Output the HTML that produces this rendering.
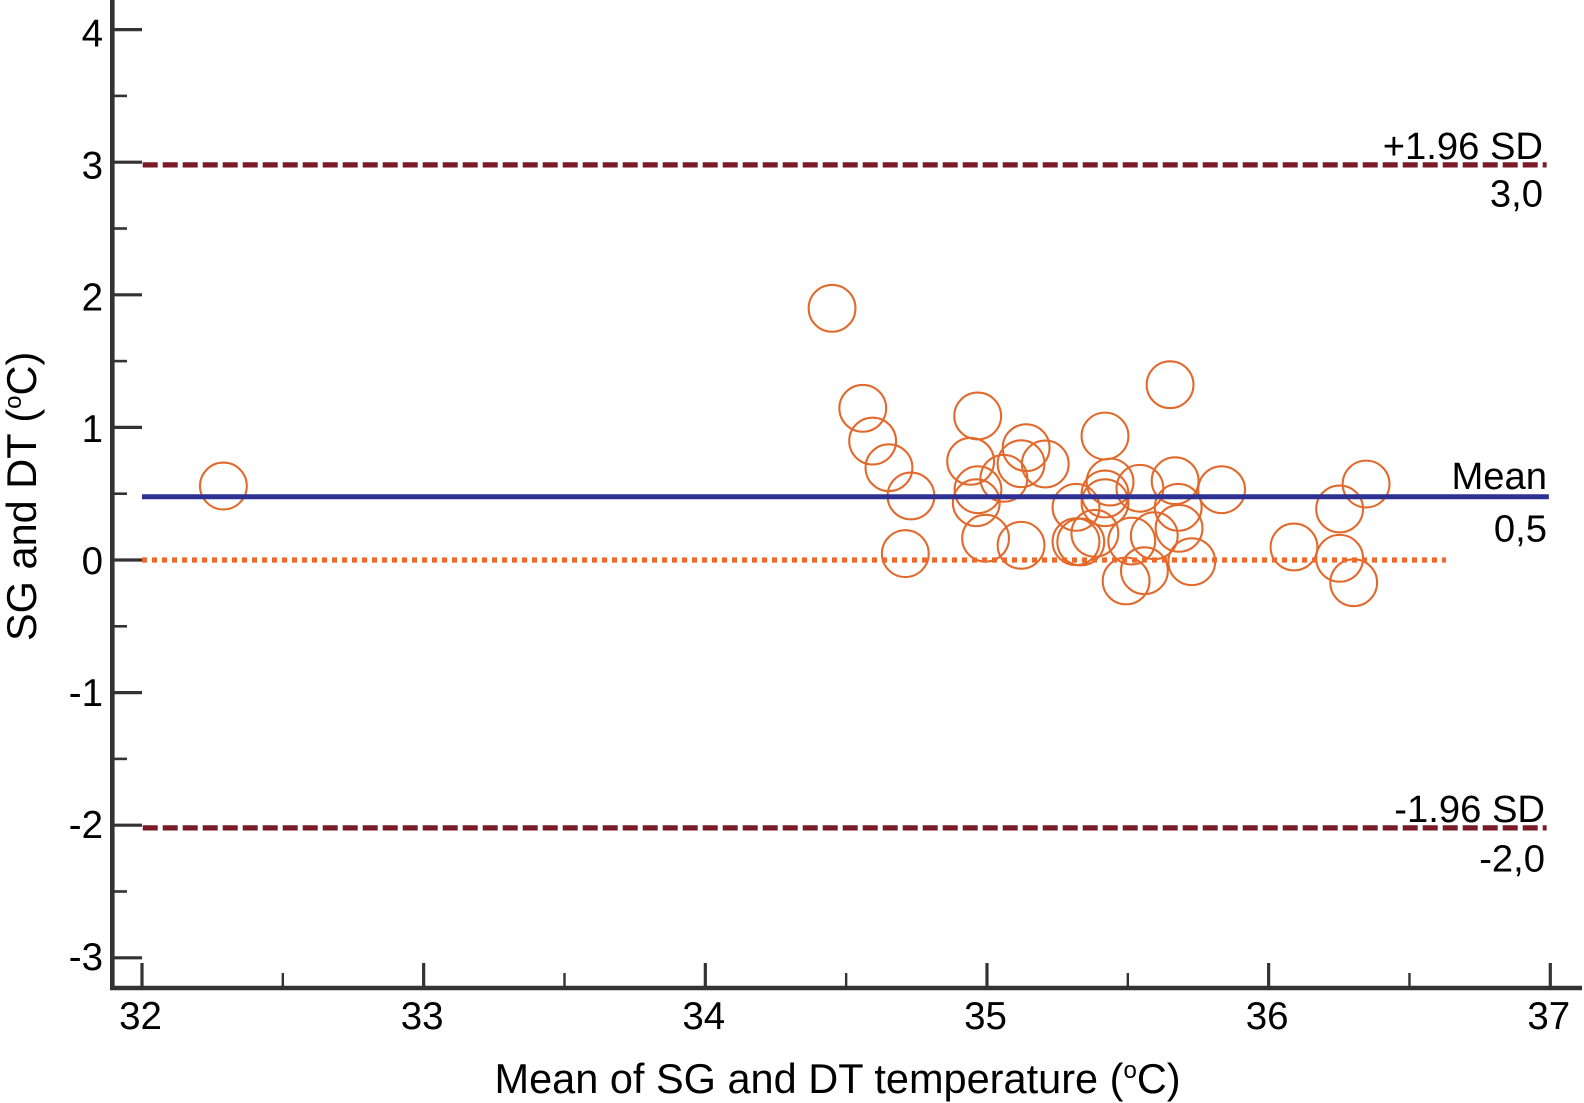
<!DOCTYPE html>
<html>
<head>
<meta charset="utf-8">
<title>Bland-Altman plot</title>
<style>
  html, body { margin: 0; padding: 0; background: #fff; }
  svg { display: block; }
  text { font-family: "Liberation Sans", sans-serif; fill: #000; }
</style>
</head>
<body>
<svg id="chart" xmlns="http://www.w3.org/2000/svg" width="1584" height="1103" viewBox="0 0 1584 1103">
  <rect x="0" y="0" width="1584" height="1103" fill="#ffffff"></rect>
  <text x="494.5" y="1093" font-size="41.5">Mean of SG and DT temperature (<tspan font-size="24" dy="-15">o</tspan><tspan dy="15">C)</tspan></text>
  <text transform="translate(36,641) rotate(-90)" x="0" y="0" font-size="41.5">SG and DT (<tspan font-size="24" dy="-15">o</tspan><tspan dy="15">C)</tspan></text>
</svg>
<script>
const meanTemps = [32.289,34.450,34.559,34.594,34.652,34.730,34.710,34.967,34.942,34.968,34.962,34.995,35.060,35.139,35.121,35.207,35.121,35.316,35.316,35.333,35.383,35.419,35.437,35.419,35.419,35.543,35.668,35.679,35.682,35.594,35.514,35.727,35.559,35.494,35.650,35.833,36.090,36.252,36.346,36.252,36.302];
const tempDiffs = [0.558,1.898,1.144,0.897,0.696,0.483,0.048,1.086,0.744,0.530,0.432,0.164,0.616,0.847,0.726,0.724,0.111,0.397,0.138,0.136,0.201,0.935,0.588,0.498,0.432,0.541,0.598,0.397,0.239,0.183,0.143,-0.013,-0.081,-0.158,1.322,0.530,0.098,0.385,0.573,0.013,-0.171];
const xMajorTicks = [32,33,34,35,36,37];
const xMinorTicks = [32.5,33.5,34.5,35.5,36.5];
const yMajorTicks = [4,3,2,1,0,-1,-2,-3];
const yMinorTicks = [3.5,2.5,1.5,0.5,-0.5,-1.5,-2.5];
const upperLimit = [2.98];
const meanDifference = [0.477];
const lowerLimit = [-2.02];
const zeroLine = [0];
const limitLineEnd = [36.987];
const meanLineEnd = [36.995];
const zeroLineEnd = [36.63];

const svg = document.getElementById('chart');
const NS = 'http://www.w3.org/2000/svg';
const AXIS = '#333333';

function xScale(v) { return 142 + (v - 32) * 281.66; }
function yScale(v) { return 560 - v * 132.6; }
function yLabelPos(v) { return 46.5 + (4 - v) * 131.9; }

function make(tag, attrs) {
  const el = document.createElementNS(NS, tag);
  for (const k in attrs) el.setAttribute(k, attrs[k]);
  svg.appendChild(el);
  return el;
}

let node;

tempDiffs.forEach(function (d, i) {
  node = make('circle', { cx: xScale(meanTemps[i]), cy: yScale(d), r: 23.4, fill: 'none', stroke: '#e2692c', 'stroke-width': 2.1 });
  
  
});

node = make('line', { x1: xScale(32), x2: xScale(zeroLineEnd[0]), y1: yScale(zeroLine[0]), y2: yScale(zeroLine[0]), stroke: '#ee6a2b', 'stroke-width': 5.2, 'stroke-dasharray': '5 5' });



node = make('line', { x1: xScale(32), x2: xScale(meanLineEnd[0]), y1: yScale(meanDifference[0]), y2: yScale(meanDifference[0]), stroke: '#2e3192', 'stroke-width': 5 });



node = make('line', { x1: xScale(32) + 0.7, x2: xScale(limitLineEnd[0]), y1: yScale(upperLimit[0]), y2: yScale(upperLimit[0]), stroke: '#7a1a24', 'stroke-width': 5.2, 'stroke-dasharray': '15 5' });



node = make('line', { x1: xScale(32) + 0.7, x2: xScale(limitLineEnd[0]), y1: yScale(lowerLimit[0]), y2: yScale(lowerLimit[0]), stroke: '#7a1a24', 'stroke-width': 5.2, 'stroke-dasharray': '15 5' });



node = make('line', { x1: 112.3, x2: 112.3, y1: 0, y2: 990, stroke: AXIS, 'stroke-width': 4.6 });



node = make('line', { x1: 110, x2: 1582, y1: 988, y2: 988, stroke: AXIS, 'stroke-width': 4.6 });



yMajorTicks.forEach(function (v) {
  node = make('line', { x1: 113, x2: 142, y1: yScale(v), y2: yScale(v), stroke: AXIS, 'stroke-width': 3.2 });
  
  
  node = make('text', { x: 103, y: yLabelPos(v), 'text-anchor': 'end', 'font-size': 38.5 });
  node.textContent = String(v);
  
  
});

yMinorTicks.forEach(function (v) {
  node = make('line', { x1: 113, x2: 127, y1: yScale(v), y2: yScale(v), stroke: AXIS, 'stroke-width': 2.6 });
  
  
});

xMajorTicks.forEach(function (v) {
  node = make('line', { x1: xScale(v), x2: xScale(v), y1: 963, y2: 988, stroke: AXIS, 'stroke-width': 3.2 });
  
  
  node = make('text', { x: xScale(v) - 1.5, y: 1029, 'text-anchor': 'middle', 'font-size': 38.5 });
  node.textContent = String(v);
  
  
});

xMinorTicks.forEach(function (v) {
  node = make('line', { x1: xScale(v), x2: xScale(v), y1: 973, y2: 988, stroke: AXIS, 'stroke-width': 2.4 });
  
  
});

node = make('text', { x: 1543, y: 159, 'text-anchor': 'end', 'font-size': 38.2 });
node.textContent = '+1.96 SD';



node = make('text', { x: 1543, y: 206.5, 'text-anchor': 'end', 'font-size': 38.2 });
node.textContent = upperLimit[0].toFixed(1).replace('.', ',');



node = make('text', { x: 1547, y: 489, 'text-anchor': 'end', 'font-size': 38.2 });
node.textContent = 'Mean';



node = make('text', { x: 1547, y: 541.5, 'text-anchor': 'end', 'font-size': 38.2 });
node.textContent = meanDifference[0].toFixed(1).replace('.', ',');



node = make('text', { x: 1545, y: 822, 'text-anchor': 'end', 'font-size': 38.2 });
node.textContent = '-1.96 SD';



node = make('text', { x: 1545, y: 871.5, 'text-anchor': 'end', 'font-size': 38.2 });
node.textContent = lowerLimit[0].toFixed(1).replace('.', ',');


</script>
</body>
</html>
